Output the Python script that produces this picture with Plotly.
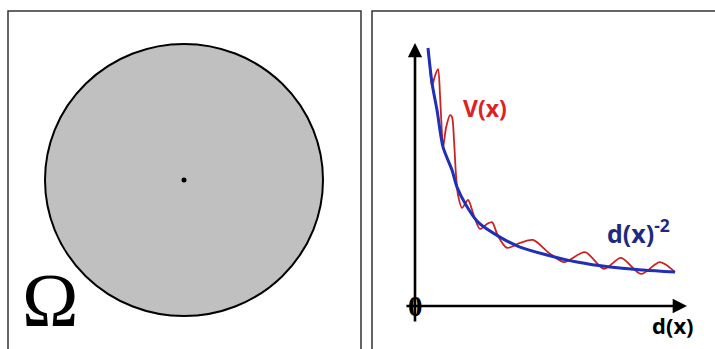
import plotly.graph_objects as go

# Reference curve d(x)^-2 (blue), sampled along the decay
d_ref = [0.478, 0.625, 0.809, 1.029, 1.360, 1.544, 1.875, 2.316, 3.125, 3.860,
         4.853, 5.956, 7.169, 8.382, 9.559]
v_ref = [9.81, 8.48, 7.45, 6.05, 5.17, 4.52, 3.84, 3.19, 2.62, 2.24,
         1.94, 1.67, 1.48, 1.37, 1.29]

# Oscillating potential V(x) (red) winding around the reference curve
d_pot = [0.478, 0.551, 0.625, 0.735, 0.846, 0.919, 0.993, 1.029, 1.140, 1.287,
         1.360, 1.434, 1.507, 1.581, 1.728, 1.949, 2.169, 2.390, 2.647, 2.831,
         3.051, 3.382, 3.860, 4.338, 4.926, 5.478, 6.250, 6.949, 7.574, 8.309,
         9.007, 9.559]
v_pot = [9.81, 9.05, 8.37, 8.75, 9.01, 8.02, 6.50, 6.01, 6.77, 7.26,
         7.19, 6.31, 4.98, 4.22, 3.73, 4.03, 3.42, 2.93, 3.12, 3.19,
         2.66, 2.21, 2.40, 2.51, 2.02, 1.67, 2.05, 1.41, 1.83, 1.22,
         1.67, 1.29]

# Point inside the domain
centre_x = [0]
centre_y = [0]

W, H = 715, 349

fig = go.Figure()

# Left panel: the domain Omega
fig.add_trace(go.Scatter(
    x=centre_x, y=centre_y, mode="markers",
    marker=dict(color="black", size=5),
    xaxis="x", yaxis="y", hoverinfo="skip", showlegend=False,
))

# Right panel: the two curves
fig.add_trace(go.Scatter(
    x=d_pot, y=v_pot, mode="lines",
    line=dict(color="#cc2222", width=1.8, shape="spline", smoothing=0.8),
    xaxis="x2", yaxis="y2", hoverinfo="skip", showlegend=False,
))
fig.add_trace(go.Scatter(
    x=d_ref, y=v_ref, mode="lines",
    line=dict(color="#1f2fb8", width=3, shape="spline", smoothing=0.8),
    xaxis="x2", yaxis="y2", hoverinfo="skip", showlegend=False,
))

hidden = dict(visible=False, showgrid=False, zeroline=False, fixedrange=True)

fig.update_layout(
    width=W, height=H,
    margin=dict(l=0, r=0, t=0, b=0),
    paper_bgcolor="white", plot_bgcolor="rgba(0,0,0,0)",
    xaxis=dict(domain=[8 / W, 361 / W], range=[-176, 177], **hidden),
    yaxis=dict(domain=[0, 1 - 11 / H], range=[-169, 169], **hidden),
    xaxis2=dict(domain=[372 / W, 1], range=[-1.581, 11.03], **hidden),
    yaxis2=dict(domain=[0, 1 - 11 / H], range=[-1.635, 11.217], **hidden),
)

# Panel frames
frame = dict(color="#333333", width=1.5)
fig.add_shape(type="rect", xref="paper", yref="paper",
              x0=8 / W, x1=361 / W, y0=-0.02, y1=1 - 11 / H, line=frame)
fig.add_shape(type="rect", xref="paper", yref="paper",
              x0=372 / W, x1=1.02, y0=-0.02, y1=1 - 11 / H, line=frame)

# The disc
fig.add_shape(type="circle", xref="x", yref="y", layer="below",
              x0=-139, x1=139, y0=-136, y1=136,
              fillcolor="#c0c0c0", line=dict(color="black", width=2))

# Axes with arrowheads
axis_arrow = dict(showarrow=True, arrowhead=2, arrowsize=1.1, arrowwidth=2.6,
                  arrowcolor="black", text="", xref="x2", yref="y2",
                  axref="x2", ayref="y2", standoff=0, startstandoff=0)
fig.add_annotation(x=0, y=10.0, ax=0, ay=-0.65, **axis_arrow)
fig.add_annotation(x=10.0, y=0, ax=-0.37, ay=0, **axis_arrow)

# Labels
label = dict(xref="paper", yref="paper", showarrow=False,
             xanchor="center", yanchor="middle")
fig.add_annotation(x=49.5 / W, y=1 - 300 / H, text="Ω",
                   font=dict(family="Liberation Serif", size=76, color="black"), **label)
fig.add_annotation(x=0, y=0, xref="x2", yref="y2", text="0", showarrow=False,
                   xanchor="center", yanchor="middle",
                   font=dict(family="Liberation Serif", size=29, color="black", weight="bold"))
fig.add_annotation(x=484.5 / W, y=1 - 108.5 / H, text="<b>V(x)</b>",
                   font=dict(family="Open Sans", size=23, color="#dd2222"), **label)
fig.add_annotation(x=638 / W, y=1 - 231 / H, text="<b>d(x)<sup>-2</sup></b>",
                   font=dict(family="Open Sans", size=25, color="#1e2a80"), **label)
fig.add_annotation(x=673 / W, y=1 - 325 / H, text="<b>d(x)</b>",
                   font=dict(family="Open Sans", size=22, color="black"), **label)

fig.write_html("out.html")
